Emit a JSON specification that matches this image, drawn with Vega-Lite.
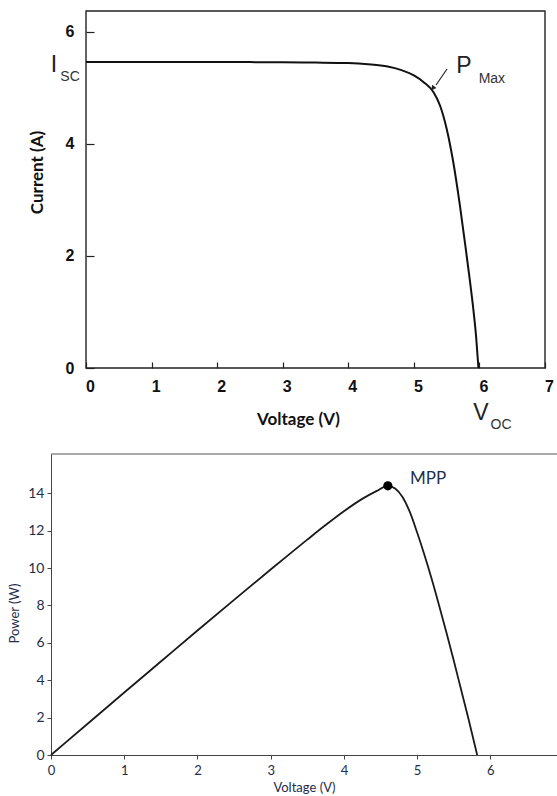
{
  "$schema": "https://vega.github.io/schema/vega-lite/v6.json",
  "padding": {"left": 8, "top": 10, "right": 0, "bottom": 0},
  "bounds": "flush",
  "spacing": 86,
  "config": {
    "view": {"stroke": null},
    "axis": {"grid": false, "labelFlush": false}
  },
  "datasets": {
    "iv": [
      {"V": 0, "I": 5.46}, {"V": 0.5, "I": 5.46}, {"V": 1, "I": 5.46}, {"V": 1.5, "I": 5.46},
      {"V": 2, "I": 5.46}, {"V": 2.5, "I": 5.458}, {"V": 3, "I": 5.455}, {"V": 3.5, "I": 5.45},
      {"V": 4.0, "I": 5.44}, {"V": 4.3, "I": 5.42}, {"V": 4.6, "I": 5.38}, {"V": 4.8, "I": 5.32},
      {"V": 5.0, "I": 5.22}, {"V": 5.15, "I": 5.1}, {"V": 5.3, "I": 4.92}, {"V": 5.4, "I": 4.68},
      {"V": 5.5, "I": 4.27}, {"V": 5.6, "I": 3.68}, {"V": 5.7, "I": 2.92}, {"V": 5.8, "I": 2.05},
      {"V": 5.85, "I": 1.6}, {"V": 5.9, "I": 1.12}, {"V": 5.95, "I": 0.55}, {"V": 5.985, "I": 0}
    ],
    "frame": [{"V": 0, "V2": 7, "I": 0, "I2": 6.37}],
    "bigText": [
      {"V": -0.488, "I": 5.281, "t": "I"},
      {"V": 5.765, "I": 5.263, "t": "P"},
      {"V": 6.024, "I": -0.928, "t": "V"}
    ],
    "smallText": [
      {"V": -0.244, "I": 5.12, "t": "SC"},
      {"V": 6.19, "I": 5.085, "t": "Max"},
      {"V": 6.33, "I": -1.088, "t": "OC"}
    ],
    "arrow": [{"V": 5.506, "I": 5.335, "V2": 5.338, "I2": 5.049}],
    "arrowHead": [{"V": 5.29, "I": 4.99}],
    "pv": [
      {"V": 0, "P": 0}, {"V": 0.5, "P": 1.67}, {"V": 1, "P": 3.34}, {"V": 1.5, "P": 5.0},
      {"V": 2, "P": 6.66}, {"V": 2.5, "P": 8.3}, {"V": 3, "P": 9.92}, {"V": 3.5, "P": 11.52},
      {"V": 3.75, "P": 12.3}, {"V": 4.0, "P": 13.04}, {"V": 4.25, "P": 13.7}, {"V": 4.45, "P": 14.13},
      {"V": 4.6, "P": 14.4}, {"V": 4.7, "P": 14.25}, {"V": 4.8, "P": 13.8},
      {"V": 4.9, "P": 13.0}, {"V": 5.0, "P": 11.9}, {"V": 5.1, "P": 10.7}, {"V": 5.2, "P": 9.4},
      {"V": 5.3, "P": 8.0}, {"V": 5.4, "P": 6.55}, {"V": 5.5, "P": 5.05}, {"V": 5.6, "P": 3.5},
      {"V": 5.7, "P": 1.95}, {"V": 5.82, "P": 0}
    ],
    "mpp": [{"V": 4.6, "P": 14.4}],
    "mppLabel": [{"V": 5.15, "P": 14.49, "t": "MPP"}],
    "topEdge": [{"V": 0, "V2": 6.91, "P": 16.1}]
  },
  "vconcat": [
    {
      "width": 494,
      "height": 357,
      "encoding": {
        "x": {
          "field": "V", "type": "quantitative",
          "scale": {"domain": [-0.534, 7], "nice": false, "zero": false},
          "axis": {
            "title": "Voltage (V)", "values": [0, 1, 2, 3, 4, 5, 6, 7],
            "domain": false, "tickSize": -6, "tickColor": "#222", "tickWidth": 1.2,
            "labelPadding": 16, "labelOffset": 4,
            "labelFont": "Liberation Sans", "labelFontWeight": "bold", "labelFontSize": 16, "labelColor": "#111",
            "titleFont": "Lato", "titleFontWeight": "bold", "titleFontSize": 17, "titleColor": "#111",
            "titlePadding": 17
          }
        },
        "y": {
          "field": "I", "type": "quantitative",
          "scale": {"domain": [0, 6.37], "nice": false, "zero": false},
          "axis": {
            "title": "Current (A)", "values": [0, 2, 4, 6], "offset": -35,
            "domain": false, "tickSize": -8, "tickColor": "#222", "tickWidth": 1.2,
            "labelPadding": 20,
            "labelFont": "Liberation Sans", "labelFontWeight": "bold", "labelFontSize": 16, "labelColor": "#111",
            "titleFont": "Lato", "titleFontWeight": "bold", "titleFontSize": 17, "titleColor": "#111",
            "titlePadding": 19, "titleY": 161
          }
        }
      },
      "layer": [
        {
          "data": {"name": "frame"},
          "mark": {"type": "rect", "filled": false, "stroke": "#222", "strokeWidth": 1.4},
          "encoding": {"x2": {"field": "V2"}, "y2": {"field": "I2"}}
        },
        {
          "data": {"name": "iv"},
          "mark": {"type": "line", "color": "#111", "strokeWidth": 2, "interpolate": "monotone"}
        },
        {
          "data": {"name": "bigText"},
          "mark": {"type": "text", "font": "Liberation Sans", "fontSize": 23, "align": "center", "baseline": "alphabetic", "color": "#222"},
          "encoding": {"text": {"field": "t"}}
        },
        {
          "data": {"name": "smallText"},
          "mark": {"type": "text", "font": "Liberation Sans", "fontSize": 14, "align": "center", "baseline": "alphabetic", "color": "#333"},
          "encoding": {"text": {"field": "t"}}
        },
        {
          "data": {"name": "arrow"},
          "mark": {"type": "rule", "color": "#222", "strokeWidth": 1.2},
          "encoding": {"x2": {"field": "V2"}, "y2": {"field": "I2"}}
        },
        {
          "data": {"name": "arrowHead"},
          "mark": {"type": "point", "shape": "triangle-up", "angle": 217, "size": 30, "filled": true, "color": "#222", "opacity": 1}
        }
      ]
    },
    {
      "width": 506,
      "height": 301,
      "encoding": {
        "x": {
          "field": "V", "type": "quantitative",
          "scale": {"domain": [0, 6.91], "nice": false, "zero": false},
          "axis": {
            "title": "Voltage (V)", "values": [0, 1, 2, 3, 4, 5, 6],
            "domainColor": "#444", "tickColor": "#444", "tickSize": 4,
            "labelPadding": 5, "labelFont": "Lato", "labelFontSize": 13, "labelColor": "#1f2d4a",
            "titleFont": "Lato", "titleFontWeight": "normal", "titleFontSize": 13, "titleColor": "#1f2d4a",
            "titlePadding": 4
          }
        },
        "y": {
          "field": "P", "type": "quantitative",
          "scale": {"domain": [0, 16.1], "nice": false, "zero": false},
          "axis": {
            "title": "Power (W)", "values": [0, 2, 4, 6, 8, 10, 12, 14],
            "domainColor": "#444", "tickColor": "#444", "tickSize": 4,
            "labelPadding": 3, "labelFont": "Lato", "labelFontSize": 14, "labelColor": "#1f2d4a",
            "titleFont": "Lato", "titleFontWeight": "normal", "titleFontSize": 13, "titleColor": "#1f2d4a",
            "titlePadding": 6, "titleY": 159
          }
        }
      },
      "layer": [
        {
          "data": {"name": "topEdge"},
          "mark": {"type": "rule", "color": "#555", "strokeWidth": 1.2},
          "encoding": {"x2": {"field": "V2"}}
        },
        {
          "data": {"name": "pv"},
          "mark": {"type": "line", "color": "#1a1a1a", "strokeWidth": 1.8, "interpolate": "monotone"}
        },
        {
          "data": {"name": "mpp"},
          "mark": {"type": "point", "shape": "circle", "size": 85, "filled": true, "color": "#000", "opacity": 1}
        },
        {
          "data": {"name": "mppLabel"},
          "mark": {"type": "text", "font": "Lato", "fontSize": 17, "align": "center", "baseline": "alphabetic", "color": "#1f3050"},
          "encoding": {"text": {"field": "t"}}
        }
      ]
    }
  ]
}
